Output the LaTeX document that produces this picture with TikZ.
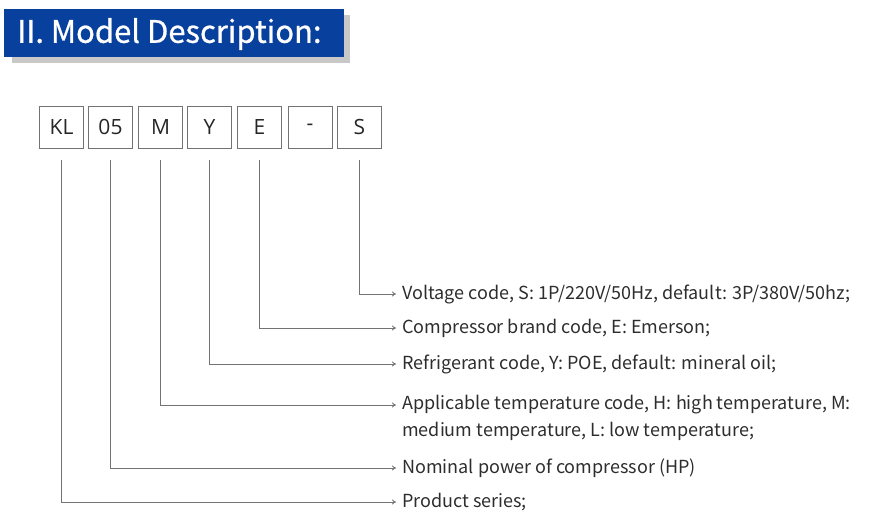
\documentclass[tikz,border=0pt]{standalone}
\usepackage{fontspec}
\setmainfont{Noto Sans CJK SC}
\newfontfamily\titlefont[FakeBold=0.8]{Noto Sans CJK SC}
\newfontfamily\boxfont{Open Sans}
\usepackage{tikz}
\usetikzlibrary{positioning,arrows.meta}

\definecolor{titleblue}{RGB}{8,64,158}
\definecolor{shadowgray}{RGB}{200,200,200}
\definecolor{linegray}{RGB}{115,115,115}
\definecolor{textgray}{RGB}{45,45,45}

\begin{document}
\begin{tikzpicture}[x=1pt,y=-1pt,
  codebox/.style = {draw=linegray, line width=0.9pt, minimum width=44pt, minimum height=42pt,
                    inner sep=0pt, font=\boxfont\fontsize{21}{24}\selectfont, text=black!85},
  desc/.style = {anchor=west, inner sep=0pt, font=\fontsize{18}{21}\selectfont, text=textgray},
  link/.style = {draw=linegray, line width=0.9pt, -{To[length=4pt,width=5pt]}}]
\useasboundingbox (0,0) rectangle (869,529);
% title bar
\fill[shadowgray] (12,15) rectangle (350,63);
\fill[titleblue] (4,9) rectangle (344,57);
\node[anchor=west, inner sep=0pt, text=white, font=\titlefont\fontsize{31}{36}\selectfont] (title) at (17,34) {II. Model Description:};
% code boxes
\foreach \nm/\lbl/\xc in {kl/KL/61.5, pw/05/110.5, tm/M/160.5, rf/Y/209.5, br/E/259.5, dash/-/310, vc/S/359.5}
    \node[codebox] (\nm) at (\xc,127) {\lbl};
% descriptions
\node[desc] (volt) at (402,294) {Voltage code, S: 1P/220V/50Hz, default: 3P/380V/50hz;};
\node[desc] (brand) at (402,328) {Compressor brand code, E: Emerson;};
\node[desc] (refr) at (402,364) {Refrigerant code, Y: POE, default: mineral oil;};
\node[desc] (temp) at (402,405) {Applicable temperature code, H: high temperature, M:};
\node[desc] (temp2) at (402,431) {medium temperature, L: low temperature;};
\node[desc] (power) at (402,468) {Nominal power of compressor (HP)};
\node[desc] (series) at (402,502) {Product series;};
% connectors
\draw[link] ([yshift=-12pt]vc.south) |- ([xshift=-6pt]volt.west);
\draw[link] ([yshift=-12pt]br.south) |- ([xshift=-6pt]brand.west);
\draw[link] ([yshift=-12pt]rf.south) |- ([xshift=-6pt]refr.west);
\draw[link] ([yshift=-12pt]tm.south) |- ([xshift=-6pt]temp.west);
\draw[link] ([yshift=-12pt]pw.south) |- ([xshift=-6pt]power.west);
\draw[link] ([yshift=-12pt]kl.south) |- ([xshift=-6pt]series.west);
\end{tikzpicture}
\end{document}
